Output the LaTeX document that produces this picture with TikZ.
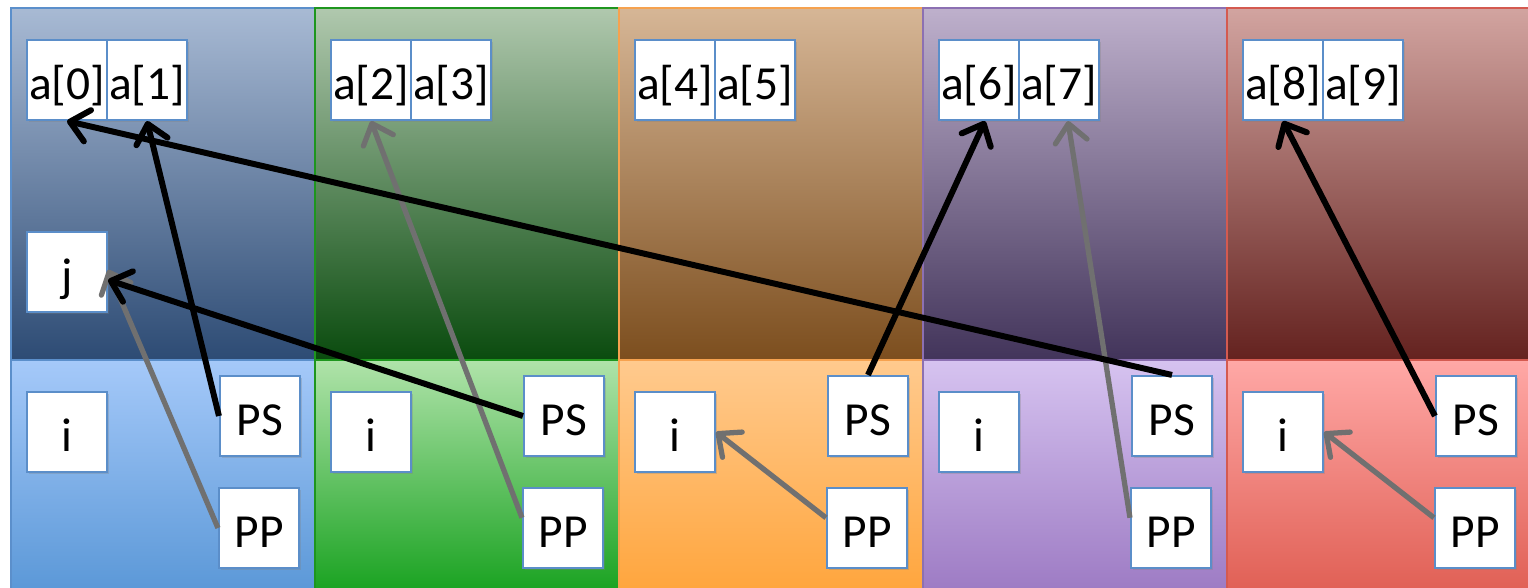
\documentclass[tikz,border=0pt]{standalone}
\usepackage{fontspec}
\setmainfont{Carlito}
\usetikzlibrary{arrows.meta,shadows}

% column colours: rim, top band (hi/lo), bottom band (hi/lo)
\definecolor{rimA}{RGB}{91,143,203}
\definecolor{topAhi}{RGB}{168,186,212}
\definecolor{topAlo}{RGB}{45,75,116}
\definecolor{botAhi}{RGB}{165,201,249}
\definecolor{botAlo}{RGB}{88,150,214}
\definecolor{rimB}{RGB}{30,150,30}
\definecolor{topBhi}{RGB}{176,200,174}
\definecolor{topBlo}{RGB}{10,75,14}
\definecolor{botBhi}{RGB}{176,227,170}
\definecolor{botBlo}{RGB}{20,160,28}
\definecolor{rimC}{RGB}{246,162,79}
\definecolor{topChi}{RGB}{214,182,150}
\definecolor{topClo}{RGB}{124,78,30}
\definecolor{botChi}{RGB}{255,202,142}
\definecolor{botClo}{RGB}{255,164,58}
\definecolor{rimD}{RGB}{140,112,178}
\definecolor{topDhi}{RGB}{190,176,204}
\definecolor{topDlo}{RGB}{66,52,90}
\definecolor{botDhi}{RGB}{214,195,240}
\definecolor{botDlo}{RGB}{155,120,194}
\definecolor{rimE}{RGB}{212,90,80}
\definecolor{topEhi}{RGB}{210,164,160}
\definecolor{topElo}{RGB}{100,34,31}
\definecolor{botEhi}{RGB}{255,168,166}
\definecolor{botElo}{RGB}{223,93,82}
\definecolor{boxline}{RGB}{91,142,201}
\definecolor{linkgray}{RGB}{112,112,112}

\begin{document}
\begin{tikzpicture}[x=0.02cm, y=-0.02cm,
		cell/.style={draw=boxline, line width=1.2pt, fill=white, minimum size=1.6cm, inner sep=0pt,
			text height=0.78cm, text depth=0pt, font=\fontsize{27pt}{32pt}\selectfont,
			drop shadow={shadow xshift=1pt, shadow yshift=-1pt, opacity=0.3}},
		link/.style={draw=black, line width=3.4pt, -{Straight Barb[length=3.6mm, width=6.4mm, round]}},
		plink/.style={link, draw=linkgray, line width=3pt}]
				\useasboundingbox (0,0) rectangle (1528,588);
				\clip (0,0) rectangle (1528,588);
				% processor columns
				\foreach \k/\c in {0/A, 1/B, 2/C, 3/D, 4/E}{
					\shade[top color=top\c hi, bottom color=top\c lo] ({11+304*\k}, 8) rectangle ({315+304*\k}, 360);
					\shade[top color=bot\c hi, bottom color=bot\c lo] ({11+304*\k}, 360) rectangle ({315+304*\k}, 600);
					\draw[rim\c, line width=0.9pt] ({11+304*\k}, 8) rectangle ({315+304*\k}, 360);
					\draw[rim\c, line width=0.9pt] ({11+304*\k}, 360) rectangle ({315+304*\k}, 600);
				}
				% memory cells and pointers
				\foreach \k [evaluate=\k as \e using int(2*\k), evaluate=\k as \o using int(2*\k+1), evaluate=\k as \n using int(\k+1)] in {0,...,4}{
					\node[cell] (a\e) at ({67+304*\k}, 80) {a[\e]};
					\node[cell] (a\o) at ({147+304*\k}, 80) {a[\o]};
					\node[cell] (i\n) at ({67+304*\k}, 432) {i};
					\node[cell] (ps\n) at ({260+304*\k}, 416) {PS};
					\node[cell] (pp\n) at ({259+304*\k}, 528) {PP};
				}
				\node[cell] (j) at (67, 272) {j};
				
				% gray links
				\draw[plink] (pp1.west) -- (j.3);
				\draw[plink] (pp2.166) -- (a2.south);
				\draw[plink] (pp3.166) -- (i3.east);
				\draw[plink] (pp4.166) -- ([xshift=0.18cm]a7.south);
				\draw[plink] (pp5.166) -- (i5.east);
				% black links
				\draw[link] (ps1.west) -- (a1.south);
				\draw[link] (ps2.west) -- (j.-11);
				\draw[link] (ps3.north) -- ([xshift=0.12cm]a6.south);
				\draw[link] (ps4.north) -- (a0.south);
				\draw[link] (ps5.west) -- (a8.south);
			\end{tikzpicture}
\end{document}
